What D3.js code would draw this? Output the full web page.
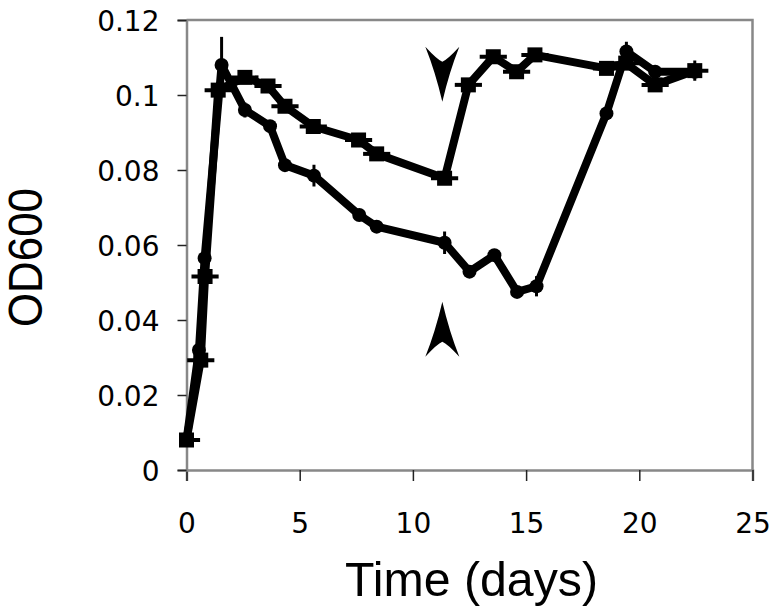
<!DOCTYPE html>
<html lang="en">
<head>
<meta charset="UTF-8">
<title>OD600 over time</title>
<script src="https://d3js.org/d3.v7.min.js"></script>
<style>
  body { margin: 0; background: #fff; }
  svg { display: block; }
  .tick text { font-family: "DejaVu Sans", Verdana, sans-serif; font-size: 28px; fill: #000; }
  .axis-title { font-family: "Liberation Sans", Arial, sans-serif; font-size: 48px; fill: #000; }
</style>
</head>
<body>
<svg id="chart" width="775" height="613"></svg>
<script>
// circle series (lower curve)
const circleDays = [0, 0.55, 0.8, 1.55, 2.58, 3.69, 4.35, 5.63, 7.63, 8.4, 11.4, 12.5, 13.6, 14.6, 15.46, 18.55, 19.43, 20.7, 22.45];
const circleOD   = [0.008, 0.032, 0.0565, 0.108, 0.096, 0.0917, 0.0813, 0.0785, 0.068, 0.0649, 0.0606, 0.0529, 0.0573, 0.0475, 0.049, 0.0951, 0.1116, 0.1062, 0.1062];
const circleErr  = [0, 0.001, 0.001, 0.0075, 0.002, 0.001, 0.001, 0.0029, 0.001, 0.001, 0.003, 0.001, 0.001, 0.001, 0.0027, 0.001, 0.0026, 0.001, 0.001];

// square series (upper curve)
const squareDays = [0, 0.63, 0.82, 1.4, 2.58, 3.6, 4.35, 5.6, 7.6, 8.4, 11.4, 12.45, 13.55, 14.58, 15.39, 18.55, 19.4, 20.7, 22.45];
const squareOD   = [0.008, 0.0293, 0.0516, 0.1013, 0.1047, 0.1024, 0.097, 0.0916, 0.088, 0.0843, 0.0778, 0.1027, 0.1102, 0.1062, 0.1107, 0.1071, 0.1085, 0.1027, 0.1065];
const squareErr  = [0.001, 0.001, 0.001, 0.002, 0.001, 0.001, 0.001, 0.001, 0.001, 0.001, 0.001, 0.001, 0.001, 0.001, 0.001, 0.001, 0.001, 0.001, 0.0027];
const squareDayErr = 0.6;

// arrowheads marking the treatment day
const arrowDay = 11.3;
const arrowTipsOD = [0.0982, 0.0449];   // down arrow, up arrow

const xTicks = [0, 5, 10, 15, 20, 25];
const yTicks = [0, 0.02, 0.04, 0.06, 0.08, 0.1, 0.12];

const margin = { top: 20, right: 22.5, bottom: 143, left: 186.5 };
const width = 775 - margin.left - margin.right;
const height = 613 - margin.top - margin.bottom;

const svg = d3.select('#chart');
const g = svg.append('g').attr('transform', `translate(${margin.left},${margin.top})`);

const x = d3.scaleLinear().domain([0, 25]).range([0, width]);
const y = d3.scaleLinear().domain([0, 0.12]).range([height, 0]);

g.append('clipPath').attr('id', 'plotClip')
  .append('rect').attr('x', 0).attr('y', -20).attr('width', width).attr('height', height + 20);

// frame (top and right)
g.append('path')
  .attr('d', `M0,0H${width}V${height}`)
  .attr('fill', 'none').attr('stroke', '#888').attr('stroke-width', 2.5);

const xAxis = g.append('g').attr('transform', `translate(0,${height})`)
  .call(d3.axisBottom(x).tickValues(xTicks).tickSize(11).tickPadding(32).tickFormat(d3.format('d')));
const yAxis = g.append('g')
  .call(d3.axisLeft(y).tickValues(yTicks).tickSize(9).tickPadding(18).tickFormat(d => d === 0 ? '0' : String(+d.toFixed(2))));

[xAxis, yAxis].forEach(a => {
  a.select('.domain').attr('stroke', '#888').attr('stroke-width', 2.5);
  a.selectAll('.tick line').attr('stroke', '#222').attr('stroke-width', 1.5);
});
yAxis.selectAll('.tick text').attr('dy', '0.36em');

const circles = circleDays.map((d, i) => ({ day: d, od: circleOD[i], err: circleErr[i] }));
const squares = squareDays.map((d, i) => ({ day: d, od: squareOD[i], err: squareErr[i] }));

const line = d3.line().x(d => x(d.day)).y(d => y(d.od));

[circles, squares].forEach(s => {
  g.append('path').datum(s)
    .attr('fill', 'none').attr('stroke', '#000').attr('stroke-width', 8)
    .attr('stroke-linejoin', 'round')
    .attr('d', line);
});

// vertical error bars
g.selectAll('.cerr').data(circles).enter().append('line')
  .attr('x1', d => x(d.day)).attr('x2', d => x(d.day))
  .attr('y1', d => y(d.od + d.err)).attr('y2', d => y(d.od - d.err))
  .attr('stroke', '#000').attr('stroke-width', 3);
g.selectAll('.serr').data(squares).enter().append('line')
  .attr('x1', d => x(d.day)).attr('x2', d => x(d.day))
  .attr('y1', d => y(d.od + d.err)).attr('y2', d => y(d.od - d.err))
  .attr('stroke', '#000').attr('stroke-width', 3);
// horizontal (time) error bars on squares
g.append('g').attr('clip-path', 'url(#plotClip)')
  .selectAll('line').data(squares).enter().append('line')
  .attr('x1', d => x(d.day - squareDayErr)).attr('x2', d => x(d.day + squareDayErr))
  .attr('y1', d => y(d.od)).attr('y2', d => y(d.od))
  .attr('stroke', '#000').attr('stroke-width', 4);

// markers
g.selectAll('.cdot').data(circles).enter().append('circle')
  .attr('cx', d => x(d.day)).attr('cy', d => y(d.od)).attr('r', 7).attr('fill', '#000');
g.selectAll('.sdot').data(squares).enter().append('rect')
  .attr('x', d => x(d.day) - 7.5).attr('y', d => y(d.od) - 7.5)
  .attr('width', 15).attr('height', 15).attr('fill', '#000');

// arrowheads
arrowTipsOD.forEach((od, i) => {
  const s = i === 0 ? -1 : 1;   // -1: pointing down, 1: pointing up
  const tx = x(arrowDay), ty = y(od);
  const p = d3.path();
  p.moveTo(tx, ty);
  p.quadraticCurveTo(tx - 7, ty + s * 30, tx - 17, ty + s * 55);
  p.quadraticCurveTo(tx - 5, ty + s * 42, tx, ty + s * 40);
  p.quadraticCurveTo(tx + 5, ty + s * 42, tx + 17, ty + s * 55);
  p.quadraticCurveTo(tx + 7, ty + s * 30, tx, ty);
  p.closePath();
  g.append('path').attr('d', p.toString()).attr('fill', '#000');
});

// axis titles
svg.append('text').attr('class', 'axis-title')
  .attr('x', 471.5).attr('y', 596).attr('text-anchor', 'middle')
  .attr('textLength', 253).attr('lengthAdjust', 'spacingAndGlyphs')
  .text('Time (days)');
svg.append('text').attr('class', 'axis-title')
  .attr('transform', 'translate(42,257.5) rotate(-90)').attr('text-anchor', 'middle')
  .attr('textLength', 139).attr('lengthAdjust', 'spacingAndGlyphs')
  .text('OD600');
</script>
</body>
</html>
